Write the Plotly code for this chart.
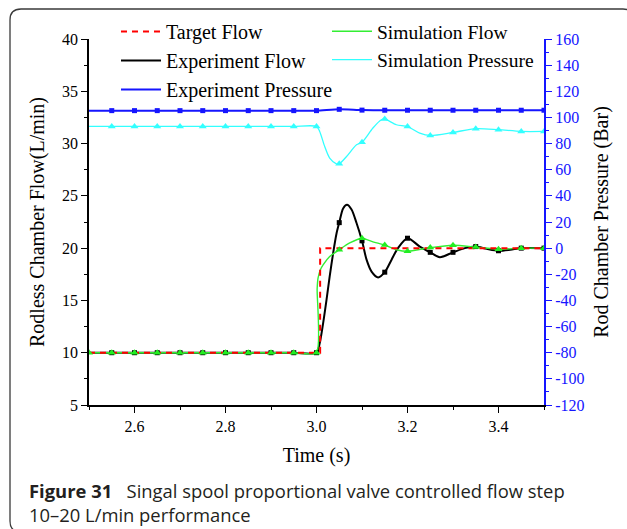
import plotly.graph_objects as go

# ---------------- data ----------------
# Target (set-point) flow, L/min
target_t = [2.5, 3.008, 3.008, 3.5]
target_flow = [10, 10, 20, 20]

# Experiment flow, L/min
exp_t = [2.5, 2.55, 2.6, 2.65, 2.7, 2.75, 2.8, 2.85, 2.9, 2.95, 3.0,
         3.007, 3.0145, 3.022, 3.029, 3.0365, 3.044, 3.05, 3.0585, 3.067,
         3.077, 3.088, 3.1, 3.11, 3.121, 3.1355, 3.15, 3.165, 3.179, 3.2,
         3.227, 3.25, 3.271, 3.3, 3.326, 3.35, 3.374, 3.4, 3.426, 3.45, 3.5]
exp_flow = [10, 10, 10, 10, 10, 10, 10, 10, 10, 10, 10,
            10.9, 12.8, 15.05, 17.3, 19.5, 21.4, 22.44, 23.8, 24.15,
            23.7, 22.4, 20.7, 18.9, 17.76, 17.2, 17.7, 18.9, 20.0, 20.95,
            20.15, 19.6, 19.14, 19.6, 20.0, 20.15, 19.93, 19.75, 19.85, 20.0, 20.0]

# Simulation flow, L/min
sim_t = [2.5, 2.55, 2.6, 2.65, 2.7, 2.75, 2.8, 2.85, 2.9, 2.95, 3.0,
         3.0014, 3.0035, 3.0088, 3.0145, 3.029, 3.05, 3.073, 3.1, 3.124,
         3.15, 3.176, 3.2, 3.25, 3.3, 3.35, 3.4, 3.45, 3.5]
sim_flow = [10, 10, 10, 10, 10, 10, 10, 10, 10, 10, 10,
            16.1, 17.15, 17.95, 18.4, 19.2, 19.85, 20.5, 20.95, 20.6,
            20.3, 19.85, 19.7, 20.05, 20.28, 20.1, 19.9, 20.0, 20.0]

# Experiment pressure, Bar
exp_p_t = [2.5, 2.55, 2.6, 2.65, 2.7, 2.75, 2.8, 2.85, 2.9, 2.95, 3.0,
           3.05, 3.1, 3.15, 3.2, 3.25, 3.3, 3.35, 3.4, 3.45, 3.5]
exp_pressure = [105.2, 105.2, 105.2, 105.2, 105.2, 105.2, 105.2, 105.2, 105.2, 105.2, 105.2,
                106.2, 105.6, 105.5, 105.5, 105.5, 105.5, 105.5, 105.5, 105.5, 105.5]

# Simulation pressure, Bar
sim_p_t = [2.5, 2.55, 2.6, 2.65, 2.7, 2.75, 2.8, 2.85, 2.9, 2.95, 3.0,
           3.007, 3.018, 3.029, 3.0437, 3.05, 3.066, 3.088, 3.1, 3.124,
           3.1425, 3.15, 3.1755, 3.2, 3.227, 3.25, 3.3, 3.35, 3.4, 3.45, 3.5]
sim_pressure = [93.1, 93.1, 93.1, 93.1, 93.1, 93.1, 93.1, 93.1, 93.1, 93.1, 93.1,
                89.3, 77.8, 68.9, 64.5, 64.5, 70.1, 79.1, 81.0, 91.9,
                98.2, 98.8, 94.4, 93.0, 88.0, 86.2, 88.5, 91.4, 90.6, 89.3, 89.3]

# right-axis tick values / labels (hyphen minus as in the original)
p_tickvals = [-120, -100, -80, -60, -40, -20, 0, 20, 40, 60, 80, 100, 120, 140, 160]
p_ticktext = ["-120", "-100", "-80", "-60", "-40", "-20", "0", "20", "40", "60", "80",
              "100", "120", "140", "160"]

marker_step = 0.05


def marked(ts, vs, start=2.5):
    mt, mv = [], []
    for t, v in zip(ts, vs):
        k = (t - start) / marker_step
        if abs(k - round(k)) < 1e-6 and t >= start - 1e-9:
            mt.append(t)
            mv.append(v)
    return mt, mv


# ---------------- layout geometry ----------------
W, H = 627, 529
ML, MR, MT, MB = 89, 83, 39, 124
PW, PH = W - ML - MR, H - MT - MB


def xp(px):
    return (px - ML) / PW


def yp(py):
    return (H - MB - py) / PH


SERIF = "Liberation Serif"
SANS = "Open Sans, Noto Sans, sans-serif"
RED = "#ff0000"
GREEN = "#33ee33"
BLUE = "#1515ff"
CYAN = "#33ffff"

fig = go.Figure()

# flow traces (left axis)
fig.add_trace(go.Scatter(x=exp_t, y=exp_flow, mode="lines", name="Experiment Flow",
                         line=dict(color="black", width=2, shape="spline", smoothing=0.8),
                         legend="legend", legendrank=2))
fig.add_trace(go.Scatter(x=sim_t, y=sim_flow, mode="lines", name="Simulation Flow",
                         line=dict(color=GREEN, width=1.4, shape="spline", smoothing=0.6),
                         legend="legend2", legendrank=1))
fig.add_trace(go.Scatter(x=target_t, y=target_flow, mode="lines", name="Target Flow",
                         line=dict(color=RED, width=2, dash="6px,5px"),
                         legend="legend", legendrank=1))
mt, mv = marked(exp_t, exp_flow, 2.55)
fig.add_trace(go.Scatter(x=mt, y=mv, mode="markers", showlegend=False,
                         marker=dict(symbol="square", size=5, color="black")))
mt, mv = marked(sim_t, sim_flow, 2.5)
fig.add_trace(go.Scatter(x=mt, y=mv, mode="markers", showlegend=False,
                         marker=dict(symbol="triangle-up", size=7, color="#22ee22")))

# pressure traces (right axis)
fig.add_trace(go.Scatter(x=sim_p_t, y=sim_pressure, mode="lines", name="Simulation Pressure",
                         yaxis="y2", line=dict(color=CYAN, width=1.3, shape="spline", smoothing=0.8),
                         legend="legend2", legendrank=2))
mt, mv = marked(sim_p_t, sim_pressure, 2.55)
fig.add_trace(go.Scatter(x=mt, y=mv, mode="markers", showlegend=False, yaxis="y2",
                         marker=dict(symbol="triangle-up", size=7, color=CYAN)))
fig.add_trace(go.Scatter(x=exp_p_t, y=exp_pressure, mode="lines", name="Experiment Pressure",
                         yaxis="y2", line=dict(color=BLUE, width=2, shape="spline", smoothing=0.6),
                         legend="legend", legendrank=3))
mt, mv = marked(exp_p_t, exp_pressure, 2.55)
fig.add_trace(go.Scatter(x=mt, y=mv, mode="markers", showlegend=False, yaxis="y2",
                         marker=dict(symbol="square", size=5, color=BLUE)))

# rounded frame around figure + caption
x0, x1, y0, y1, r = 10, 634, 9, 532, 11
path = (f"M {xp(x0)},{yp(y1 - r)} L {xp(x0)},{yp(y0 + r)} "
        f"Q {xp(x0)},{yp(y0)} {xp(x0 + r)},{yp(y0)} L {xp(x1 - r)},{yp(y0)} "
        f"Q {xp(x1)},{yp(y0)} {xp(x1)},{yp(y0 + r)} L {xp(x1)},{yp(y1 - r)} "
        f"Q {xp(x1)},{yp(y1)} {xp(x1 - r)},{yp(y1)} L {xp(x0 + r)},{yp(y1)} "
        f"Q {xp(x0)},{yp(y1)} {xp(x0)},{yp(y1 - r)} Z")

tickfont = dict(family=SERIF, size=16, color="black")

fig.update_layout(
    width=W, height=H,
    margin=dict(l=ML, r=MR, t=MT, b=MB, pad=0),
    paper_bgcolor="white", plot_bgcolor="white",
    font=dict(family=SERIF, size=16, color="black"),
    xaxis=dict(range=[2.5, 3.5], tick0=2.4, dtick=0.2, tickformat=".1f",
               showline=True, linecolor="black", linewidth=1.6, mirror=False,
               ticks="outside", ticklen=6, tickwidth=1.4, tickcolor="black",
               minor=dict(dtick=0.1, tick0=2.5, ticks="outside", ticklen=3, tickwidth=1.4, tickcolor="black"),
               showgrid=False, zeroline=False,
               tickfont=tickfont,
               title=dict(text="Time (s)", font=dict(family=SERIF, size=20), standoff=14)),
    yaxis=dict(range=[5, 40], dtick=5, tick0=5,
               showline=True, linecolor="black", linewidth=1.6,
               ticks="outside", ticklen=6, tickwidth=1.4, tickcolor="black",
               minor=dict(dtick=2.5, ticks="outside", ticklen=3, tickwidth=1.4, tickcolor="black"),
               showgrid=False, zeroline=False,
               tickfont=tickfont,
               title=dict(text="Rodless Chamber Flow(L/min)", font=dict(family=SERIF, size=20), standoff=12)),
    yaxis2=dict(range=[-120, 160], tickmode="array", tickvals=p_tickvals, ticktext=p_ticktext,
                overlaying="y", side="right", anchor="x",
                showline=True, linecolor=BLUE, linewidth=2,
                ticks="outside", ticklen=6, tickwidth=1.4, tickcolor=BLUE,
                minor=dict(dtick=10, tick0=0, ticks="outside", ticklen=3, tickwidth=1.4, tickcolor=BLUE),
                showgrid=False, zeroline=False,
                tickfont=dict(family=SERIF, size=16, color=BLUE),
                title=dict(text="Rod Chamber Pressure (Bar)", font=dict(family=SERIF, size=20, color="black"),
                           standoff=10)),
    legend=dict(x=xp(116), y=yp(12), xanchor="left", yanchor="top",
                bgcolor="rgba(0,0,0,0)", borderwidth=0, font=dict(family=SERIF, size=20),
                itemwidth=40, tracegroupgap=1),
    legend2=dict(x=xp(327), y=yp(12), xanchor="left", yanchor="top",
                 bgcolor="rgba(0,0,0,0)", borderwidth=0, font=dict(family=SERIF, size=19.5),
                 itemwidth=40, tracegroupgap=1),
    shapes=[dict(type="path", xref="paper", yref="paper", path=path,
                 line=dict(color="#3a3a3a", width=1.3), layer="below")],
    annotations=[
        dict(xref="paper", yref="paper", x=xp(27), y=yp(502), xanchor="left", yanchor="middle",
             showarrow=False, align="left",
             text=("<b>Figure 31</b>\u00a0\u00a0 Singal spool proportional valve controlled flow step"
                   "<br>10–20 L/min performance"),
             font=dict(family=SANS, size=18.4, color="#231f20")),
    ],
)

fig.write_html("out.html")
